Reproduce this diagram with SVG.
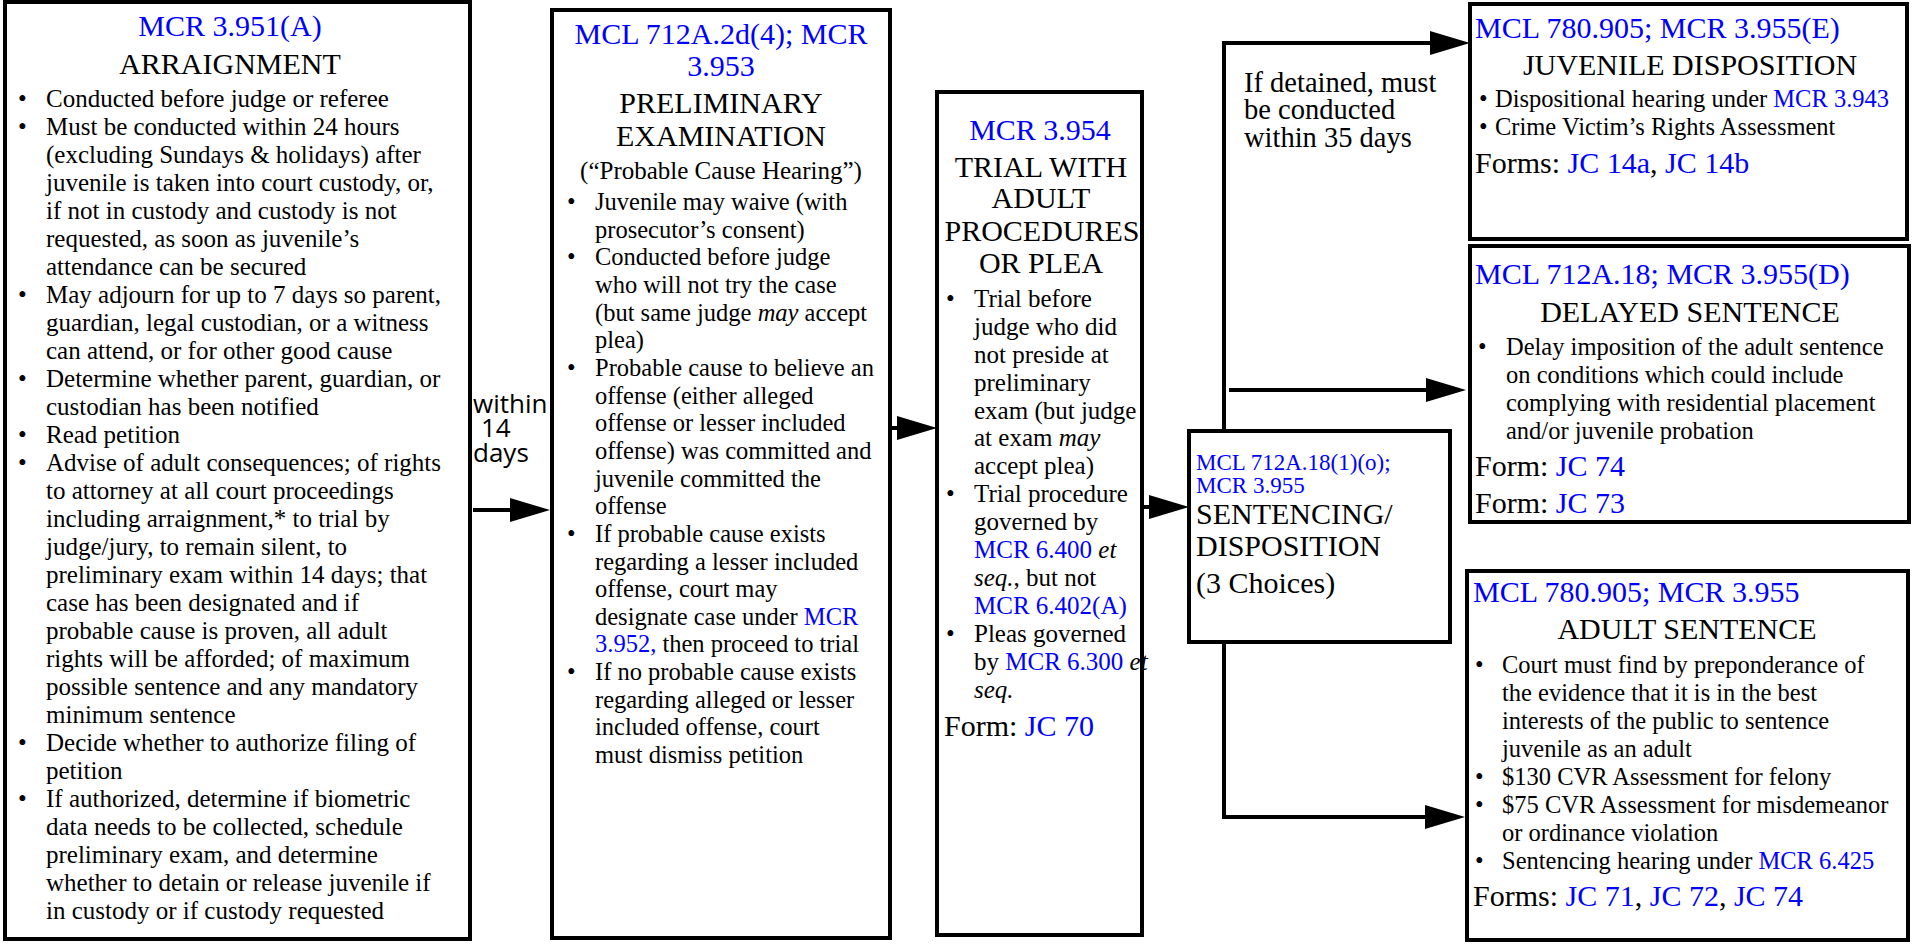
<svg xmlns="http://www.w3.org/2000/svg" width="1913" height="947" viewBox="0 0 1913 947">
<defs>
<style>
.box{fill:#fff;stroke:#000;stroke-width:4}
.t{font-family:"Liberation Serif","Times New Roman",serif;font-size:25px;fill:#000}
.m{font-size:24.5px}
.h{font-size:30px}
.b{fill:#0000ff}
.c{text-anchor:middle}
.i{font-style:italic}
.s{font-family:"Open Sans","Liberation Sans",sans-serif;font-size:26px;fill:#000}
.ln{fill:none;stroke:#000;stroke-width:4}
</style>
<marker id="ah" markerUnits="userSpaceOnUse" markerWidth="40" markerHeight="24" refX="0" refY="12" orient="auto" overflow="visible">
<path d="M0,0 L40,12 L0,24 Z" fill="#000"/>
</marker>
</defs>
<rect width="1913" height="947" fill="#fff"/>

<g id="connectors">
<path class="ln" d="M473,510 H510" marker-end="url(#ah)"/>
<path class="ln" d="M892,428 H897" marker-end="url(#ah)"/>
<path class="ln" d="M1143,507 H1149" marker-end="url(#ah)"/>
<path class="ln" d="M1224,431 V43 H1430" marker-end="url(#ah)"/>
<path class="ln" d="M1229,390 H1426" marker-end="url(#ah)"/>
<path class="ln" d="M1224,642 V817 H1425" marker-end="url(#ah)"/>
<text class="s" x="473" y="413">within</text>
<text class="s" x="481" y="437">14</text>
<text class="s" x="473" y="462">days</text>
<text class="t" style="font-size:28.5px" x="1244" y="92">If detained, must</text>
<text class="t" style="font-size:28.5px" x="1244" y="119">be conducted</text>
<text class="t" style="font-size:28.5px" x="1244" y="147">within 35 days</text>
</g>

<g id="arraignment">
<rect class="box" x="5" y="2" width="465" height="937"/>
<text class="t h b c" x="230" y="36">MCR 3.951(A)</text>
<text class="t h c" x="230" y="74">ARRAIGNMENT</text>
<g class="t">
<text x="18" y="107">•</text><text x="46" y="107">Conducted before judge or referee</text>
<text x="18" y="135">•</text><text x="46" y="135">Must be conducted within 24 hours</text>
<text x="46" y="163">(excluding Sundays &amp; holidays) after</text>
<text x="46" y="191">juvenile is taken into court custody, or,</text>
<text x="46" y="219">if not in custody and custody is not</text>
<text x="46" y="247">requested, as soon as juvenile’s</text>
<text x="46" y="275">attendance can be secured</text>
<text x="18" y="303">•</text><text x="46" y="303">May adjourn for up to 7 days so parent,</text>
<text x="46" y="331">guardian, legal custodian, or a witness</text>
<text x="46" y="359">can attend, or for other good cause</text>
<text x="18" y="387">•</text><text x="46" y="387">Determine whether parent, guardian, or</text>
<text x="46" y="415">custodian has been notified</text>
<text x="18" y="443">•</text><text x="46" y="443">Read petition</text>
<text x="18" y="471">•</text><text x="46" y="471">Advise of adult consequences; of rights</text>
<text x="46" y="499">to attorney at all court proceedings</text>
<text x="46" y="527">including arraignment,* to trial by</text>
<text x="46" y="555">judge/jury, to remain silent, to</text>
<text x="46" y="583">preliminary exam within 14 days; that</text>
<text x="46" y="611">case has been designated and if</text>
<text x="46" y="639">probable cause is proven, all adult</text>
<text x="46" y="667">rights will be afforded; of maximum</text>
<text x="46" y="695">possible sentence and any mandatory</text>
<text x="46" y="723">minimum sentence</text>
<text x="18" y="751">•</text><text x="46" y="751">Decide whether to authorize filing of</text>
<text x="46" y="779">petition</text>
<text x="18" y="807">•</text><text x="46" y="807">If authorized, determine if biometric</text>
<text x="46" y="835">data needs to be collected, schedule</text>
<text x="46" y="863">preliminary exam, and determine</text>
<text x="46" y="891">whether to detain or release juvenile if</text>
<text x="46" y="919">in custody or if custody requested</text>
</g>
</g>

<g id="preliminary-exam">
<rect class="box" x="552" y="10" width="338" height="928"/>
<text class="t h b c" x="721" y="44">MCL 712A.2d(4); MCR</text>
<text class="t h b c" x="721" y="76">3.953</text>
<text class="t h c" x="721" y="113">PRELIMINARY</text>
<text class="t h c" x="721" y="146">EXAMINATION</text>
<text class="t c" x="721" y="179">(“Probable Cause Hearing”)</text>
<g class="t m">
<text x="567" y="210">•</text><text x="595" y="210">Juvenile may waive (with</text>
<text x="595" y="237.6">prosecutor’s consent)</text>
<text x="567" y="265.3">•</text><text x="595" y="265.3">Conducted before judge</text>
<text x="595" y="293">who will not try the case</text>
<text x="595" y="320.6">(but same judge <tspan class="i">may</tspan> accept</text>
<text x="595" y="348.3">plea)</text>
<text x="567" y="375.9">•</text><text x="595" y="375.9">Probable cause to believe an</text>
<text x="595" y="403.6">offense (either alleged</text>
<text x="595" y="431.2">offense or lesser included</text>
<text x="595" y="458.9">offense) was committed and</text>
<text x="595" y="486.5">juvenile committed the</text>
<text x="595" y="514.2">offense</text>
<text x="567" y="541.8">•</text><text x="595" y="541.8">If probable cause exists</text>
<text x="595" y="569.5">regarding a lesser included</text>
<text x="595" y="597.1">offense, court may</text>
<text x="595" y="624.8">designate case under <tspan class="b">MCR</tspan></text>
<text x="595" y="652.4"><tspan class="b">3.952,</tspan> then proceed to trial</text>
<text x="567" y="680.1">•</text><text x="595" y="680.1">If no probable cause exists</text>
<text x="595" y="707.7">regarding alleged or lesser</text>
<text x="595" y="735.4">included offense, court</text>
<text x="595" y="763">must dismiss petition</text>
</g>
</g>

<g id="trial">
<rect class="box" x="937" y="92" width="205" height="843"/>
<text class="t h b c" x="1040" y="140">MCR 3.954</text>
<text class="t h c" x="1041" y="177">TRIAL WITH</text>
<text class="t h c" x="1041" y="208">ADULT</text>
<text class="t h c" x="1042" y="241">PROCEDURES</text>
<text class="t h c" x="1041" y="273">OR PLEA</text>
<g class="t">
<text x="946" y="307">•</text><text x="974" y="307">Trial before</text>
<text x="974" y="335">judge who did</text>
<text x="974" y="363">not preside at</text>
<text x="974" y="391">preliminary</text>
<text x="974" y="419">exam (but judge</text>
<text x="974" y="446">at exam <tspan class="i">may</tspan></text>
<text x="974" y="474">accept plea)</text>
<text x="946" y="502">•</text><text x="974" y="502">Trial procedure</text>
<text x="974" y="530">governed by</text>
<text x="974" y="558"><tspan class="b">MCR 6.400</tspan> <tspan class="i">et</tspan></text>
<text x="974" y="586"><tspan class="i">seq.</tspan>, but not</text>
<text x="974" y="614" class="b">MCR 6.402(A)</text>
<text x="946" y="642">•</text><text x="974" y="642">Pleas governed</text>
<text x="974" y="670">by <tspan class="b">MCR 6.300</tspan> <tspan class="i">et</tspan></text>
<text x="974" y="698" class="i">seq.</text>
<text x="944" y="736" class="h">Form: <tspan class="b">JC 70</tspan></text>
</g>
</g>

<g id="sentencing">
<rect class="box" x="1189" y="431" width="261" height="211"/>
<text class="t b" style="font-size:23px" x="1196" y="470">MCL 712A.18(1)(o);</text>
<text class="t b" style="font-size:23px" x="1196" y="493">MCR 3.955</text>
<text class="t h" x="1196" y="524">SENTENCING/</text>
<text class="t h" x="1196" y="556">DISPOSITION</text>
<text class="t h" x="1196" y="593">(3 Choices)</text>
</g>

<g id="juvenile-disposition">
<rect class="box" x="1470" y="4" width="437" height="235"/>
<text class="t h b" x="1475" y="38">MCL 780.905; MCR 3.955(E)</text>
<text class="t h c" x="1690" y="75">JUVENILE DISPOSITION</text>
<g class="t m">
<text x="1479" y="107">•</text><text x="1495" y="107">Dispositional hearing under <tspan class="b">MCR 3.943</tspan></text>
<text x="1479" y="135">•</text><text x="1495" y="135">Crime Victim’s Rights Assessment</text>
</g>
<text class="t h" x="1475" y="173">Forms: <tspan class="b">JC 14a</tspan>, <tspan class="b">JC 14b</tspan></text>
</g>

<g id="delayed-sentence">
<rect class="box" x="1470" y="246" width="439" height="276"/>
<text class="t h b" x="1475" y="284">MCL 712A.18; MCR 3.955(D)</text>
<text class="t h c" x="1690" y="322">DELAYED SENTENCE</text>
<g class="t m">
<text x="1478" y="355">•</text><text x="1506" y="355">Delay imposition of the adult sentence</text>
<text x="1506" y="383">on conditions which could include</text>
<text x="1506" y="411">complying with residential placement</text>
<text x="1506" y="439">and/or juvenile probation</text>
</g>
<text class="t h" x="1475" y="476">Form: <tspan class="b">JC 74</tspan></text>
<text class="t h" x="1475" y="513">Form: <tspan class="b">JC 73</tspan></text>
</g>

<g id="adult-sentence">
<rect class="box" x="1467" y="571" width="441" height="369"/>
<text class="t h b" x="1473" y="602">MCL 780.905; MCR 3.955</text>
<text class="t h c" x="1687" y="639">ADULT SENTENCE</text>
<g class="t m">
<text x="1475" y="673">•</text><text x="1502" y="673">Court must find by preponderance of</text>
<text x="1502" y="701">the evidence that it is in the best</text>
<text x="1502" y="729">interests of the public to sentence</text>
<text x="1502" y="757">juvenile as an adult</text>
<text x="1475" y="785">•</text><text x="1502" y="785">$130 CVR Assessment for felony</text>
<text x="1475" y="813">•</text><text x="1502" y="813">$75 CVR Assessment for misdemeanor</text>
<text x="1502" y="841">or ordinance violation</text>
<text x="1475" y="869">•</text><text x="1502" y="869">Sentencing hearing under <tspan class="b">MCR 6.425</tspan></text>
</g>
<text class="t h" x="1473" y="906">Forms: <tspan class="b">JC 71</tspan>, <tspan class="b">JC 72</tspan>, <tspan class="b">JC 74</tspan></text>
</g>
</svg>
